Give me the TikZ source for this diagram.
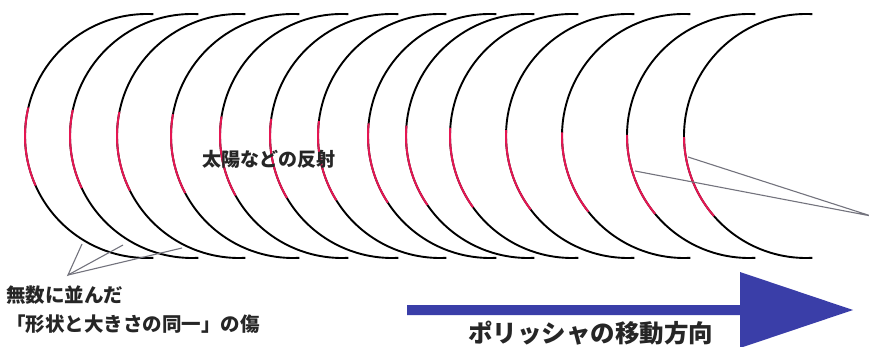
\documentclass[tikz,border=0pt]{standalone}
\usepackage{fontspec}
\newfontfamily\cjk{Noto Sans CJK JP}
\usetikzlibrary{calc}
\definecolor{scratchred}{RGB}{228,22,82}
\definecolor{leadergray}{RGB}{115,115,125}
\definecolor{arrowblue}{RGB}{58,62,168}
\begin{document}
\begin{tikzpicture}[x=1pt,y=-1pt,
  arcline/.style={line width=1.9pt,black},
  redpart/.style={line width=2pt,scratchred},
  leader/.style={line width=1.1pt,leadergray},
  label/.style={font=\cjk\bfseries\fontsize{19}{23}\selectfont,text=black!85,inner sep=0pt}]
\useasboundingbox (0,0) rectangle (869,347);
% arcs
\foreach \lx [count=\i from 0] in {25,70,117,171,220,270,318,368,406,450,506,562,627,684}{
  \pgfmathsetmacro{\cx}{\lx+122}
  \pgfmathsetmacro{\rs}{193.5-14*\i/13}
  \pgfmathsetmacro{\re}{156-17*\i/13}
  \coordinate (c\i) at (\cx,136);
  \draw[arcline] ($(c\i)+(273:122)$) arc[start angle=273,end angle=87,radius=122];
  \draw[redpart] ($(c\i)+(\rs:122)$) arc[start angle=\rs,end angle=\re,radius=122];
}
% labels
\node[label,anchor=west] (sun) at (202,159) {太陽などの反射};
\node[label,anchor=north west,align=left,font=\cjk\bfseries\fontsize{19.5}{29}\selectfont] (scr) at (6,286) {無数に並んだ\\「形状と大きさの同一」の傷};
% left leaders
\coordinate (la) at (68,275);
\coordinate (l1) at (82,244);
\coordinate (l2) at (123,245);
\coordinate (l3) at (182,248);
\draw[leader] (l1) -- (la) -- (l2);
\draw[leader] (la) -- (l3);
% right leaders
\coordinate (ra) at (871,216);
\coordinate (r1) at (688,157);
\coordinate (r2) at (635,171);
\draw[leader] (r1) -- (ra) -- (r2);
% arrow
\coordinate (as) at (407,310);
\coordinate (ae) at (853,310);
\fill[arrowblue] (407,305) -- (740,305) -- (740,272) -- (ae) -- (740,348) -- (740,315) -- (407,315) -- cycle;
\node[label,font=\cjk\bfseries\fontsize{24.5}{28}\selectfont,anchor=west] (dir) at (468,333) {ポリッシャの移動方向};
\end{tikzpicture}
\end{document}
